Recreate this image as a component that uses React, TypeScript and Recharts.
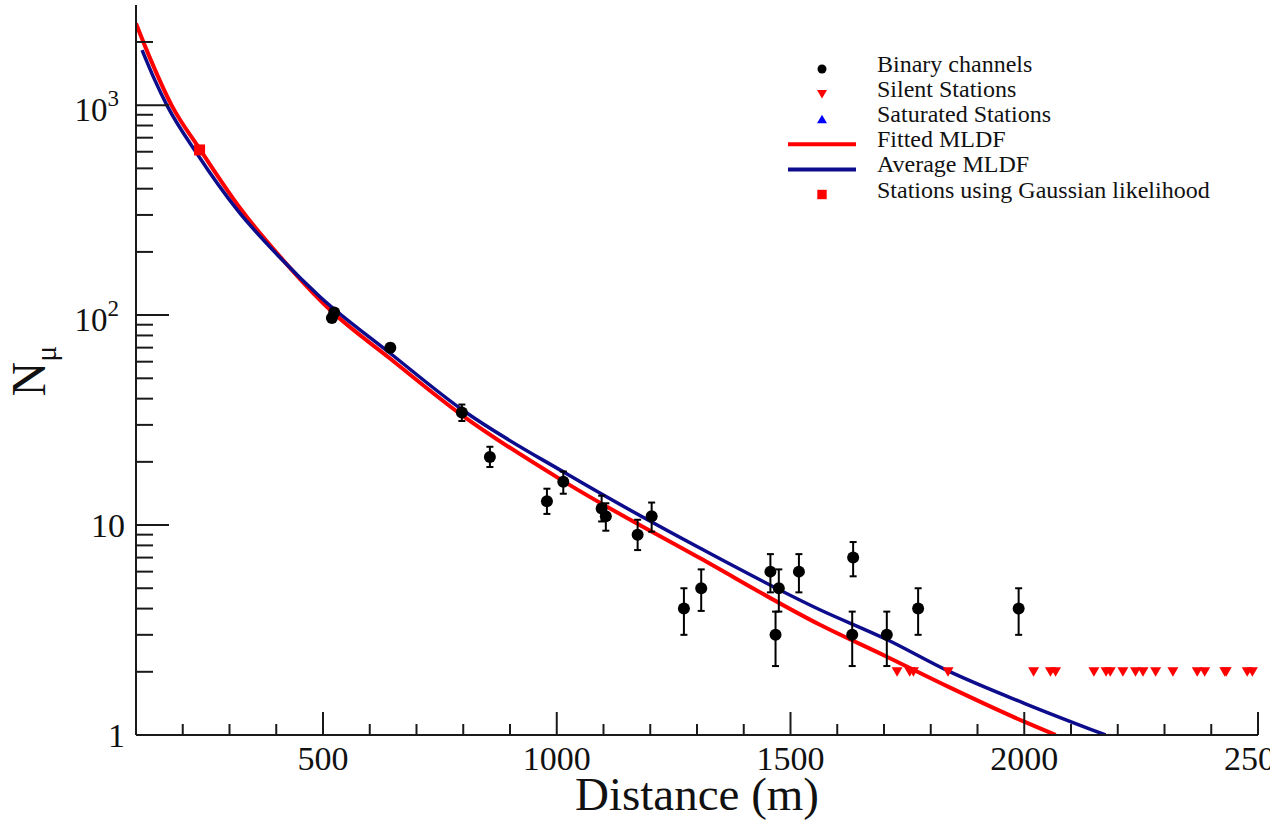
import React from 'react';
import { ComposedChart, Line, Scatter, XAxis, YAxis, ErrorBar, Legend } from 'recharts';

const FONT = '"Liberation Serif", "Times New Roman", serif';
const AXIS = '#1a1a1a';

// Binary channel stations (distance in m, muon number, asymmetric errors)
const binaryDistance = [519, 524, 644, 797, 857, 979, 1014, 1096, 1105, 1173, 1203, 1272, 1309, 1457, 1468, 1475, 1518, 1632, 1634, 1706, 1773, 1988];
const binaryMuons = [97, 103, 70, 34.4, 21.1, 13.0, 16.1, 12.0, 11.0, 9.0, 11.0, 4, 5, 6, 3, 5, 6, 3, 7, 3, 4, 4];
const binaryErrLow = [4, 4, 3, 3.1, 2.2, 1.7, 2.0, 1.6, 1.6, 1.4, 1.7, 1.0, 1.1, 1.22, 0.87, 1.13, 1.22, 0.87, 1.3, 0.87, 1.0, 1.0];
const binaryErrHigh = [4, 4, 3, 3.1, 2.5, 1.9, 1.9, 1.8, 1.7, 1.6, 1.8, 1.0, 1.15, 1.27, 0.87, 1.15, 1.27, 0.87, 1.3, 0.87, 1.0, 1.0];

// Silent stations (upper limits)
const silentDistance = [1728, 1755, 1763, 1837, 2020, 2056, 2067, 2149, 2175, 2184, 2211, 2238, 2254, 2281, 2318, 2370, 2386, 2429, 2432, 2477, 2488];
const silentMuons = [2, 2, 2, 2, 2, 2, 2, 2, 2, 2, 2, 2, 2, 2, 2, 2, 2, 2, 2, 2, 2];

// Saturated stations: none in this event
const saturatedDistance: number[] = [];
const saturatedMuons: number[] = [];

// Stations using Gaussian likelihood
const gaussianDistance = [236];
const gaussianMuons = [612];

// Fitted MLDF
const fittedDistance = [100, 130, 176, 237, 324, 408, 515, 644, 797, 1022, 1307, 1564, 1706, 1837, 2000, 2067];
const fittedMuons = [2450, 1675, 1000, 615, 320, 190, 106, 62, 33.4, 15.8, 6.94, 3.34, 2.36, 1.7, 1.157, 1.0];

// Average MLDF
const averageDistance = [113, 140, 166, 231, 317, 408, 494, 643, 797, 1022, 1307, 1564, 1706, 1837, 2000, 2174];
const averageMuons = [1830, 1320, 1000, 585, 316, 188, 122, 66, 35.5, 17.5, 7.75, 3.94, 2.85, 2.02, 1.416, 1.0];

// Axis ticks
const xMajorTicks = [500, 1000, 1500, 2000, 2500];
const xMinorTicks = [200, 300, 400, 600, 700, 800, 900, 1100, 1200, 1300, 1400, 1600, 1700, 1800, 1900, 2100, 2200, 2300, 2400];
const yMajorTicks = [1, 10, 100, 1000];
const yMajorLabels = [{ base: '1' }, { base: '10' }, { base: '10', exp: '2' }, { base: '10', exp: '3' }];
const yMinorTicks = [2, 3, 4, 5, 6, 7, 8, 9, 20, 30, 40, 50, 60, 70, 80, 90, 200, 300, 400, 500, 600, 700, 800, 900, 2000];

const legendItems = [
  { name: 'Binary channels', kind: 'dot' },
  { name: 'Silent Stations', kind: 'down' },
  { name: 'Saturated Stations', kind: 'up' },
  { name: 'Fitted MLDF', kind: 'red' },
  { name: 'Average MLDF', kind: 'blue' },
  { name: 'Stations using Gaussian likelihood', kind: 'square' },
];

const RED = '#ff0000';
const BLUE = '#0c0c8c';

const binaryData = binaryDistance.map((x, i) => ({ x, y: binaryMuons[i], err: [binaryErrLow[i], binaryErrHigh[i]] }));
const silentData = silentDistance.map((x, i) => ({ x, y: silentMuons[i] }));
const saturatedData = saturatedDistance.map((x, i) => ({ x, y: saturatedMuons[i] }));
const gaussianData = gaussianDistance.map((x, i) => ({ x, y: gaussianMuons[i] }));
const fittedData = fittedDistance.map((x, i) => ({ x, y: fittedMuons[i] }));
const averageData = averageDistance.map((x, i) => ({ x, y: averageMuons[i] }));

const xTicks = [...xMinorTicks, ...xMajorTicks].sort((a, b) => a - b);
const yTicks = [...yMinorTicks, ...yMajorTicks].sort((a, b) => a - b);

function XTick({ x, y, payload }: any) {
  const major = xMajorTicks.includes(payload.value);
  return (
    <g>
      <line x1={x} x2={x} y1={y} y2={y - (major ? 23 : 11)} stroke={AXIS} strokeWidth={2} />
      {major && (
        <text x={x} y={y + 35} textAnchor="middle" fontSize={34} fontFamily={FONT} fill="#111">
          {payload.value}
        </text>
      )}
    </g>
  );
}

function YTick({ x, y, payload }: any) {
  const idx = yMajorTicks.indexOf(payload.value);
  const major = idx >= 0;
  const label = major ? yMajorLabels[idx] : null;
  return (
    <g>
      <line x1={x} x2={x + (major ? 33 : 17)} y1={y} y2={y} stroke={AXIS} strokeWidth={2} />
      {label && !label.exp && (
        <text x={x - 11} y={y + 12} textAnchor="end" fontSize={34} fontFamily={FONT} fill="#111">
          {label.base}
        </text>
      )}
      {label && label.exp && (
        <text x={x - 17} y={y + 16} textAnchor="end" fontSize={33} fontFamily={FONT} fill="#111">
          {label.base}
          <tspan fontSize={23} dy={-15}>{label.exp}</tspan>
        </text>
      )}
    </g>
  );
}

function XLabel({ viewBox }: any) {
  const { x, y, width } = viewBox;
  return (
    <text x={x + width / 2} y={y + 75} textAnchor="middle" fontSize={47} fontFamily={FONT} fill="#111">
      Distance (m)
    </text>
  );
}

function YLabel({ viewBox }: any) {
  const { y, height } = viewBox;
  const cx = 45;
  const cy = y + height / 2 + 1;
  return (
    <text x={cx} y={cy} textAnchor="middle" fontSize={48} fontFamily={FONT} fill="#111" transform={`rotate(-90, ${cx}, ${cy})`}>
      N
      <tspan fontSize={30} dy={11}>μ</tspan>
    </text>
  );
}

const DotShape = (p: any) => <circle cx={p.cx} cy={p.cy} r={6} fill="#000" />;
const DownTriangle = (p: any) => (
  <path d={`M${p.cx - 5.5},${p.cy - 4.5}L${p.cx + 5.5},${p.cy - 4.5}L${p.cx},${p.cy + 5}Z`} fill={RED} />
);
const UpTriangle = (p: any) => (
  <path d={`M${p.cx - 5.5},${p.cy + 4.5}L${p.cx + 5.5},${p.cy + 4.5}L${p.cx},${p.cy - 5}Z`} fill="#0000ff" />
);
const SquareShape = (p: any) => <rect x={p.cx - 5.5} y={p.cy - 5.5} width={11} height={11} fill={RED} />;

function LegendSymbol({ kind, cy }: { kind: string; cy: number }) {
  const cx = 42;
  switch (kind) {
    case 'dot':
      return <circle cx={cx} cy={cy} r={4.5} fill="#000" />;
    case 'down':
      return <path d={`M${cx - 5},${cy - 4}L${cx + 5},${cy - 4}L${cx},${cy + 4.5}Z`} fill={RED} />;
    case 'up':
      return <path d={`M${cx - 5},${cy + 4}L${cx + 5},${cy + 4}L${cx},${cy - 4.5}Z`} fill="#0000ff" />;
    case 'red':
      return <line x1={8} x2={76} y1={cy} y2={cy} stroke={RED} strokeWidth={4} />;
    case 'blue':
      return <line x1={8} x2={76} y1={cy} y2={cy} stroke={BLUE} strokeWidth={4} />;
    default:
      return <rect x={cx - 4.7} y={cy - 4.7} width={9.4} height={9.4} fill={RED} />;
  }
}

function LegendBox() {
  return (
    <svg width={460} height={160}>
      {legendItems.map((item, i) => {
        const base = 22 + i * 25.1;
        return (
          <g key={item.name}>
            <LegendSymbol kind={item.kind} cy={base - 3} />
            <text x={97} y={base} fontSize={24} fontFamily={FONT} fill="#111">
              {item.name}
            </text>
          </g>
        );
      })}
    </svg>
  );
}

export default function App() {
  return (
    <div style={{ position: 'absolute', left: 0, top: 0, background: '#fff' }}>
      <ComposedChart width={1270} height={820} margin={{ top: 5, right: 12, bottom: 0, left: 0 }}>
        <XAxis
          dataKey="x"
          type="number"
          domain={[100, 2500]}
          allowDataOverflow
          ticks={xTicks}
          interval={0}
          tick={<XTick />}
          tickLine={false}
          tickSize={0}
          tickMargin={0}
          height={85}
          axisLine={{ stroke: AXIS, strokeWidth: 2 }}
          label={(props: any) => <XLabel {...props} />}
        />
        <XAxis
          xAxisId="top"
          orientation="top"
          type="number"
          domain={[100, 2500]}
          height={0}
          tick={false}
          tickLine={false}
          axisLine={{ stroke: AXIS, strokeWidth: 2 }}
        />
        <YAxis
          dataKey="y"
          type="number"
          scale="log"
          domain={[1, 3000]}
          allowDataOverflow
          ticks={yTicks}
          interval={0}
          tick={<YTick />}
          tickLine={false}
          tickSize={0}
          tickMargin={0}
          width={136}
          axisLine={{ stroke: AXIS, strokeWidth: 2 }}
          label={(props: any) => <YLabel {...props} />}
        />
        <YAxis
          yAxisId="right"
          orientation="right"
          type="number"
          domain={[1, 3000]}
          width={0}
          tick={false}
          tickLine={false}
          axisLine={{ stroke: AXIS, strokeWidth: 2 }}
        />
        <Line
          name="Fitted MLDF"
          data={fittedData}
          dataKey="y"
          type="monotone"
          stroke={RED}
          strokeWidth={4}
          dot={false}
          isAnimationActive={false}
        />
        <Line
          name="Average MLDF"
          data={averageData}
          dataKey="y"
          type="monotone"
          stroke={BLUE}
          strokeWidth={3.5}
          dot={false}
          isAnimationActive={false}
        />
        <Scatter name="Binary channels" data={binaryData} dataKey="y" shape={DotShape} isAnimationActive={false}>
          <ErrorBar dataKey="err" direction="y" width={3.5} stroke="#000" strokeWidth={2} />
        </Scatter>
        <Scatter name="Silent Stations" data={silentData} dataKey="y" shape={DownTriangle} isAnimationActive={false} />
        <Scatter name="Saturated Stations" data={saturatedData} dataKey="y" shape={UpTriangle} isAnimationActive={false} />
        <Scatter
          name="Stations using Gaussian likelihood"
          data={gaussianData}
          dataKey="y"
          shape={SquareShape}
          isAnimationActive={false}
        />
        <Legend
          layout="vertical"
          align="center"
          verticalAlign="middle"
          content={<LegendBox />}
          wrapperStyle={{ left: 780, top: 50, width: 460, height: 160 }}
        />
      </ComposedChart>
    </div>
  );
}
